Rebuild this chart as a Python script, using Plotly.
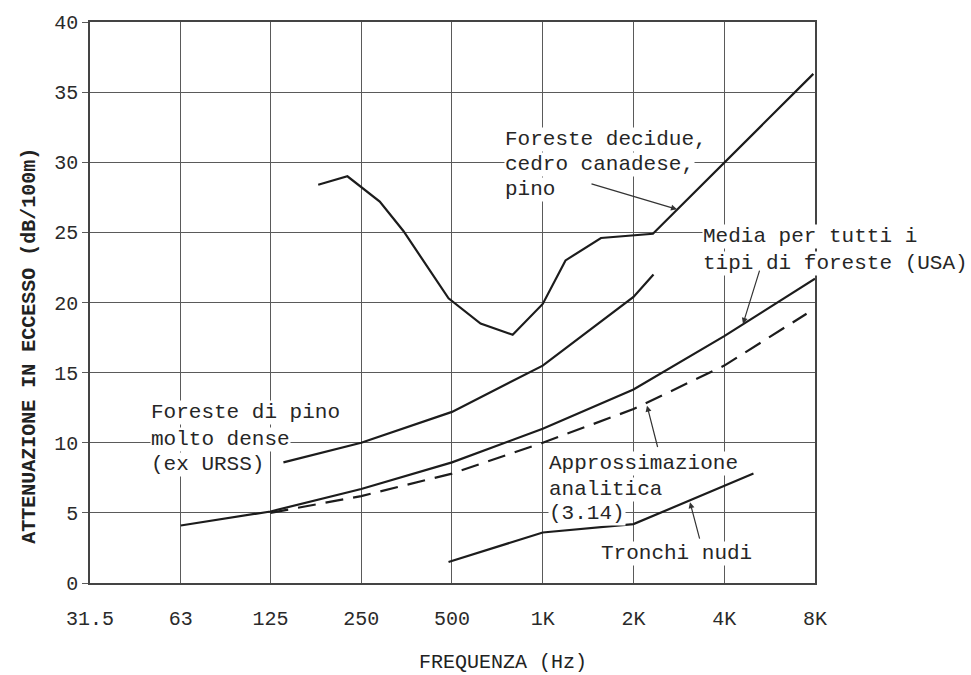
import math
import plotly.graph_objects as go

# ---------------- data ----------------
tick_freqs = [31.5, 63, 125, 250, 500, 1000, 2000, 4000, 8000]
tick_labels = ["31.5", "63", "125", "250", "500", "1K", "2K", "4K", "8K"]
y_ticks = [0, 5, 10, 15, 20, 25, 30, 35, 40]

decidue_f = [180, 225, 288, 345, 487, 622, 795, 1000, 1190, 1560, 2320, 7900]
decidue_v = [28.4, 29.0, 27.2, 25.1, 20.3, 18.5, 17.7, 19.9, 23.0, 24.6, 24.9, 36.3]

pino_f = [138, 250, 500, 1000, 2000, 2330]
pino_v = [8.6, 10.0, 12.2, 15.5, 20.4, 22.0]

media_f = [63, 125, 250, 500, 1000, 2000, 4000, 8000]
media_v = [4.1, 5.1, 6.7, 8.6, 11.0, 13.8, 17.6, 21.7]

approx_f = [125, 250, 500, 1000, 2000, 4000, 7500]
approx_v = [5.0, 6.2, 7.8, 10.0, 12.4, 15.5, 19.2]

tronchi_f = [487, 1000, 2000, 5000]
tronchi_v = [1.5, 3.6, 4.2, 7.8]

# ---------------- layout geometry ----------------
W, H = 971, 675
X0, X1, Y0, Y1 = 90, 815, 20, 583
F_MIN, F_MAX = 31.5, 8000
FONT = "Liberation Mono"
INK = "#1c1c1c"
GRID = "#5a5a5a"


def px_to_logf(px):
    return math.log10(F_MIN) + (px - X0) / (X1 - X0) * math.log10(F_MAX / F_MIN)


def py_to_val(py):
    return (Y1 - py) / (Y1 - Y0) * 40


def paper_x(px):
    return (px - X0) / (X1 - X0)


def paper_y(py):
    return (Y1 - py) / (Y1 - Y0)


fig = go.Figure()

line_style = dict(color=INK, width=2.2)
for f, v in [(decidue_f, decidue_v), (pino_f, pino_v), (media_f, media_v), (tronchi_f, tronchi_v)]:
    fig.add_trace(go.Scatter(x=f, y=v, mode="lines", line=line_style, hoverinfo="skip"))
fig.add_trace(go.Scatter(x=approx_f, y=approx_v, mode="lines",
                         line=dict(color=INK, width=2.2, dash="18px,10px"), hoverinfo="skip"))

annotations = []

# multi-line labels, one annotation per line so white boxes stay tight
labels = [
    ("Foreste decidue,", 504, 138),
    ("cedro canadese,", 504, 163),
    ("pino", 504, 188),
    ("Media per tutti i", 702, 235),
    ("tipi di foreste (USA)", 702, 262),
    ("Foreste di pino", 150, 412),
    ("molto dense", 150, 439),
    ("(ex URSS)", 150, 464),
    ("Approssimazione", 548, 463),
    ("analitica", 548, 489),
    ("(3.14)", 548, 513),
    ("Tronchi nudi", 600, 553),
]
for txt, px, py in labels:
    annotations.append(dict(
        text=txt, xref="paper", yref="paper", x=paper_x(px), y=paper_y(py),
        xanchor="left", yanchor="middle", showarrow=False,
        font=dict(family=FONT, size=21, color="#262626"),
        bgcolor="white", borderpad=0,
    ))

arrows = [
    ((590, 182), (677, 208)),
    ((760, 268), (743, 323)),
    ((658, 448), (647, 405)),
    ((700, 540), (690, 502)),
]
for (tx, ty), (hx, hy) in arrows:
    annotations.append(dict(
        text="", xref="x", yref="y", axref="x", ayref="y",
        x=px_to_logf(hx), y=py_to_val(hy), ax=px_to_logf(tx), ay=py_to_val(ty),
        showarrow=True, arrowhead=2, arrowsize=1.0, arrowwidth=1.2, arrowcolor="#333",
    ))

# axis titles
annotations.append(dict(
    text="FREQUENZA (Hz)", xref="paper", yref="paper",
    x=paper_x(503), y=paper_y(663), xanchor="center", yanchor="middle", showarrow=False,
    font=dict(family=FONT, size=20, color="#222"),
))
annotations.append(dict(
    text="<b>ATTENUAZIONE IN ECCESSO (dB/100m)</b>", xref="paper", yref="paper",
    x=paper_x(30), y=paper_y(345), xanchor="center", yanchor="middle", showarrow=False,
    textangle=-90, font=dict(family=FONT, size=20, color="#222"),
))

fig.update_layout(
    width=W, height=H,
    margin=dict(l=X0, r=W - X1, t=Y0, b=H - Y1, pad=0),
    paper_bgcolor="white", plot_bgcolor="white",
    showlegend=False,
    annotations=annotations,
    xaxis=dict(
        type="log", range=[math.log10(F_MIN), math.log10(F_MAX)],
        tickmode="array", tickvals=tick_freqs, ticktext=tick_labels,
        showgrid=True, gridcolor=GRID, gridwidth=1.3,
        showline=True, linecolor="#444", linewidth=1.5, mirror=True,
        ticks="", ticklabelstandoff=16,
        tickfont=dict(family=FONT, size=20, color="#2a2a2a"),
        zeroline=False,
    ),
    yaxis=dict(
        range=[0, 40], tickmode="array", tickvals=y_ticks,
        showgrid=True, gridcolor=GRID, gridwidth=1.3,
        showline=True, linecolor="#444", linewidth=1.5, mirror=True,
        ticks="outside", ticklen=6, tickcolor=GRID, tickwidth=1.3,
        tickfont=dict(family=FONT, size=20, color="#2a2a2a"),
        zeroline=False,
    ),
)

fig.write_html("out.html")
